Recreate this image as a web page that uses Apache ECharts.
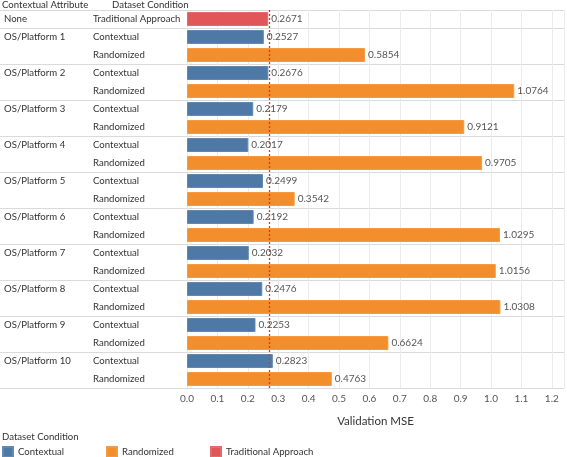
<!DOCTYPE html>
<html><head><meta charset="utf-8">
<script src="https://cdn.jsdelivr.net/npm/echarts@6/dist/echarts.min.js"></script>
<style>html,body{margin:0;padding:0;background:#fff}#c{width:567px;height:457px}</style>
</head><body><div id="c"></div>
<script>
// ---- data ----
const groups = ['None','OS/Platform 1','OS/Platform 2','OS/Platform 3','OS/Platform 4','OS/Platform 5','OS/Platform 6','OS/Platform 7','OS/Platform 8','OS/Platform 9','OS/Platform 10'];
const conditions = ['Contextual','Randomized','Traditional Approach'];
const traditionalValue = [0.2671];
const contextualValues = [0.2527,0.2676,0.2179,0.2017,0.2499,0.2192,0.2032,0.2476,0.2253,0.2823];
const randomizedValues = [0.5854,1.0764,0.9121,0.9705,0.3542,1.0295,1.0156,1.0308,0.6624,0.4763];
const xTickLabels = ['0.0','0.1','0.2','0.3','0.4','0.5','0.6','0.7','0.8','0.9','1.0','1.1','1.2'];
const colors = {'Contextual':'#4e79a7','Randomized':'#f28e2b','Traditional Approach':'#e15759'};
const FONT = 'Lato';
const FS = 9.6;
const REF_COLOR = '#e8302a';

// ---- rows ----
const rows = [];
rows.push({group: groups[0], cond: 'Traditional Approach', first: true, value: traditionalValue[0]});
for (let i = 1; i < groups.length; i++) {
  rows.push({group: groups[i], cond: 'Contextual', first: true, value: contextualValues[i-1]});
  rows.push({group: groups[i], cond: 'Randomized', first: false, value: randomizedValues[i-1]});
}
const cats = rows.map((r, i) => String(i));

function seriesFor(cond) {
  return {
    name: cond, type: 'bar', stack: 'all', barWidth: 14,
    data: rows.map(r => r.cond === cond ? r.value : null),
    itemStyle: {color: colors[cond], borderColor: echarts.color.lift(colors[cond], 0.12), borderWidth: 1},
    label: {show: true, position: 'right', distance: 3, fontSize: 10, color: '#555', fontFamily: FONT,
      formatter: p => p.value == null ? '' : Number(p.value).toFixed(4)},
    emphasis: {disabled: true}
  };
}
const series = conditions.map(seriesFor);
series[2].markLine = {
  silent: true, symbol: ['none', 'none'], label: {show: false},
  lineStyle: {type: [2, 2], color: REF_COLOR, width: 1.3, opacity: 1},
  emphasis: {disabled: true},
  data: [{xAxis: traditionalValue[0], lineStyle: {color: REF_COLOR, type: [2, 2], width: 1.3}}]
};

const chart = echarts.init(document.getElementById('c'));
const legendBase = (name, left) => ({
  data: [name], left: left, top: 446, padding: 0, icon: 'rect', itemWidth: 10, itemHeight: 10, itemGap: 4,
  textStyle: {fontSize: FS, color: '#333', fontFamily: FONT}, selectedMode: false
});
const titleStyle = {fontSize: FS, fontWeight: 'normal', color: '#333', fontFamily: FONT};
chart.setOption({
  animation: false,
  textStyle: {fontFamily: FONT},
  title: [
    {text: 'Contextual Attribute', left: 2, top: 0, padding: 0, textStyle: titleStyle},
    {text: 'Dataset Condition', left: 112, top: 0, padding: 0, textStyle: titleStyle},
    {text: 'Dataset Condition', left: 2, top: 432, padding: 0, textStyle: titleStyle}
  ],
  legend: [legendBase(conditions[0], 2), legendBase(conditions[1], 106), legendBase(conditions[2], 210)],
  grid: {left: 187, top: 10, width: 378, height: 378, containLabel: false},
  xAxis: {
    type: 'value', min: 0, max: 1.24, interval: 0.1,
    name: 'Validation MSE', nameLocation: 'middle', nameGap: 27,
    nameTextStyle: {fontSize: 11.5, color: '#333', fontFamily: FONT},
    axisLine: {show: false}, axisTick: {show: false},
    axisLabel: {fontSize: 10, color: '#555', margin: 6, fontFamily: FONT,
      formatter: v => { const k = Math.round(v * 10); return Math.abs(v * 10 - k) < 1e-6 && k < xTickLabels.length ? xTickLabels[k] : ''; }},
    splitLine: {show: true, lineStyle: {color: '#ebebeb', width: 1}}
  },
  yAxis: [
    {type: 'category', data: cats, inverse: true,
      axisLine: {show: false}, axisTick: {show: false}, splitLine: {show: false},
      axisLabel: {interval: 0, align: 'left', margin: 94, fontSize: FS, color: '#333', fontFamily: FONT,
        formatter: v => rows[+v].cond}},
    {type: 'category', data: cats, inverse: true, position: 'left',
      axisLine: {show: false}, axisTick: {show: false}, splitLine: {show: false},
      axisLabel: {interval: 0, align: 'left', margin: 183, fontSize: FS, color: '#333', fontFamily: FONT,
        formatter: v => rows[+v].first ? rows[+v].group : ''}}
  ],
  series: series
});

// group separators across full width
const c0 = chart.convertToPixel({yAxisIndex: 0}, cats[0]);
const c1 = chart.convertToPixel({yAxisIndex: 0}, cats[1]);
const step = c1 - c0;
const xEnd = chart.convertToPixel({xAxisIndex: 0}, 1.24);
const lines = [];
rows.forEach((r, i) => {
  if (r.first) {
    const y = Math.round(chart.convertToPixel({yAxisIndex: 0}, cats[i]) - step / 2) + 0.5;
    lines.push({type: 'line', silent: true, z: -1, shape: {x1: 0, y1: y, x2: xEnd, y2: y}, style: {stroke: '#dadada', lineWidth: 1}});
  }
});
const yb = Math.round(chart.convertToPixel({yAxisIndex: 0}, cats[cats.length - 1]) + step / 2) + 0.5;
lines.push({type: 'line', silent: true, z: -1, shape: {x1: 0, y1: yb, x2: xEnd, y2: yb}, style: {stroke: '#dadada', lineWidth: 1}});
chart.setOption({graphic: lines});
</script>
</body></html>
